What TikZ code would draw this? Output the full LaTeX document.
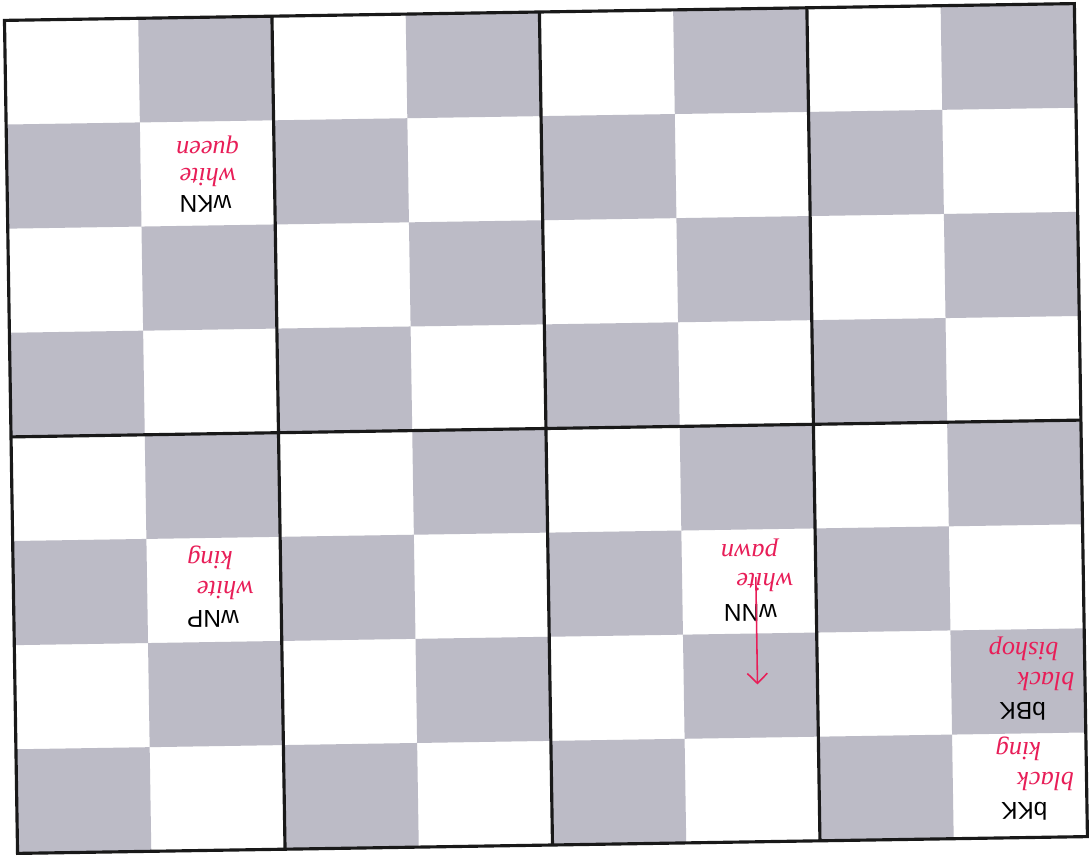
\documentclass[tikz,border=0pt]{standalone}
\usepackage{fontspec}
\setmainfont{Liberation Sans}
\newfontfamily\handfont{Liberation Serif}
\usetikzlibrary{arrows.meta}
\definecolor{boardgrey}{RGB}{188,187,198}
\definecolor{ink}{RGB}{232,30,88}
\definecolor{rule}{RGB}{25,25,25}
\tikzset{
  darksq/.style={fill=boardgrey},
  blockline/.style={rule,line width=1.8pt},
  code/.style={font=\fontsize{14}{14}\selectfont,rotate=180,inner sep=0pt},
  note/.style={ink,font=\handfont\itshape\fontsize{15}{15}\selectfont,rotate=180,inner sep=0pt},
}

\begin{document}
\begin{tikzpicture}[x=0.02cm,y=-0.02cm]
  \fill[white] (0,0) rectangle (1089,861);
  \begin{scope}[rotate around={0.9:(548.5,430.5)}]
    % squares, dark where row+col is odd
    \foreach \r in {0,...,7}
      \foreach \c in {0,...,7}{
        \pgfmathtruncatemacro\odd{mod(\r+\c,2)}
        \ifnum\odd=1
          \fill[darksq] ({11+\c*134.375},{12+\r*104.625}) rectangle ++(134.375,104.625);
        \fi
      }
    % 2x4 blocks
    \foreach \c in {2,4,6}
      \draw[blockline] ({11+\c*134.375},12) -- ++(0,837);
    \draw[blockline] (11,430.5) -- (1086,430.5);
    \draw[blockline] (11,12) rectangle (1086,849);

    \node[code] (wKN) at (210,200) {wKN};
    \node[note] (wKN note) at (213,173) {white};
    \node[note] (wKN note b) at (213,140) {queen};

    \node[code] (wNP) at (211,617) {wNP};
    \node[note] (wNP note) at (224,588) {white};
    \node[note] (wNP note b) at (209,555) {king};

    \node[code] (wNN) at (751,619) {wNN};
    \node[note] (wNN note) at (766,589) {white};
    \node[note] (wNN note b) at (751,554) {pawn};

    \node[code] (bBK) at (1023,722) {bBK};
    \node[note] (bBK note) at (1047,693) {black};
    \node[note] (bBK note b) at (1025,659) {bishop};

    \node[code] (bKK) at (1023,823) {bKK};
    \node[note] (bKK note) at (1045,793) {black};
    \node[note] (bKK note b) at (1018,760) {king};

    \coordinate (pawn arrow top) at (757,583);
    \coordinate (pawn arrow tip) at (757,691);
    \draw[ink,line width=0.9pt,-{Straight Barb[length=2mm,width=4mm]}] (pawn arrow top) -- (pawn arrow tip);
  \end{scope}
\end{tikzpicture}
\end{document}
